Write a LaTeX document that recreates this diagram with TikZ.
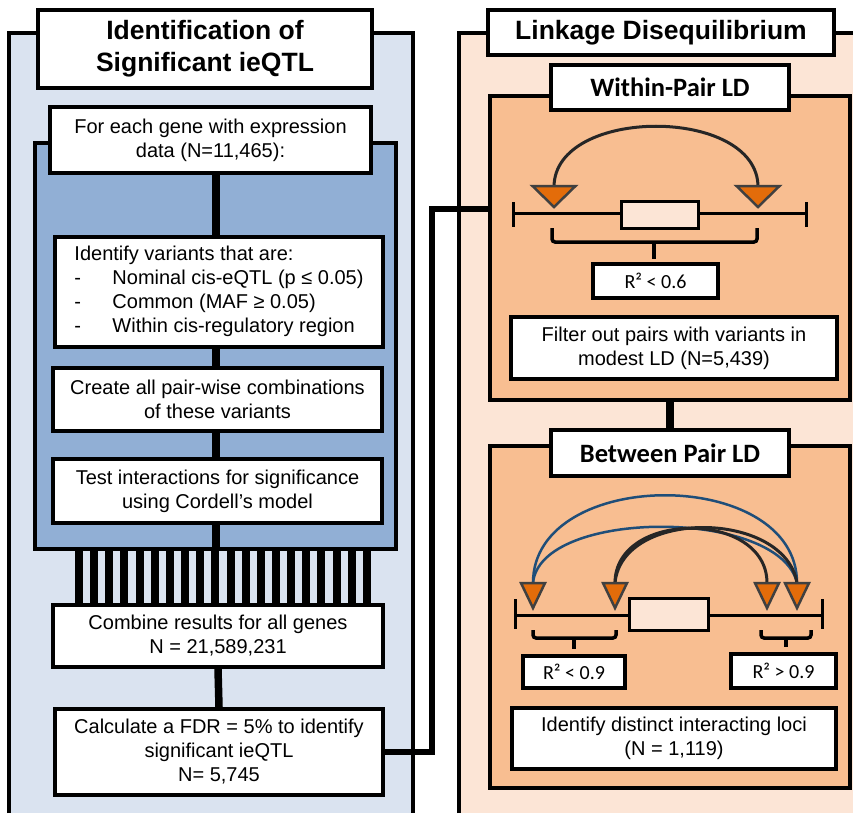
\documentclass[tikz,border=0pt]{standalone}
\usepackage{fontspec}
\setmainfont{Liberation Sans}
\newfontfamily\calfont{Carlito}
\pgfdeclarelayer{bg}
\pgfdeclarelayer{lines}
\pgfsetlayers{bg,lines,main}
\definecolor{leftbg}{HTML}{DAE3F0}
\definecolor{innerblue}{HTML}{91AFD5}
\definecolor{rightbg}{HTML}{FCE5D6}
\definecolor{orangebg}{HTML}{F8BE91}
\definecolor{trifill}{HTML}{E36C0A}
\definecolor{triborder}{HTML}{404040}
\definecolor{arcblue}{HTML}{1F4E79}
\definecolor{genefill}{HTML}{FCE5D6}
\tikzset{
  panel/.style={line width=4pt, draw=black},
  box/.style={draw=black, line width=4pt, fill=white, inner sep=0pt, align=center,
    font=\fontsize{20}{24}\selectfont},
  titlebox/.style={draw=black, line width=4pt, fill=white, inner sep=0pt, align=center,
    font=\bfseries\fontsize{26.5}{32}\selectfont},
  ldtitle/.style={draw=black, line width=4pt, fill=white, inner sep=0pt, align=center,
    font=\calfont\bfseries\fontsize{26.5}{30}\selectfont},
  rbox/.style={draw=black, line width=3.5pt, fill=white, inner sep=0pt, align=center,
    font=\calfont\fontsize{20}{22}\selectfont},
  innerrect/.style={draw=black, line width=4pt, fill=innerblue, inner sep=0pt},
  orangebox/.style={draw=black, line width=3.5pt, fill=orangebg, inner sep=0pt},
  spine/.style={line width=7.5pt, draw=black},
  comb/.style={line width=8pt, draw=black},
  link/.style={line width=6pt, draw=black},
  gline/.style={line width=3pt, draw=black},
  generect/.style={line width=3pt, draw=black, fill=genefill},
  bracket/.style={line width=3.5pt, draw=black, rounded corners=3pt},
  arcblack/.style={line width=3pt, draw=black!85},
  arcblue/.style={line width=2.5pt, draw=arcblue},
  bigtri/.pic={\draw[fill=trifill, draw=triborder, line width=2.5pt] (0,0) -- (-21.5,-21) -- (21.5,-21) -- cycle;},
  smalltri/.pic={\draw[fill=trifill, draw=triborder, line width=2.5pt] (0,0) -- (-12,-25) -- (12,-25) -- cycle;}
}
\begin{document}
\begin{tikzpicture}[x=1pt,y=-1pt]
\useasboundingbox (0,0) rectangle (853,813);
\begin{pgfonlayer}{bg}
  % left panel
  \fill[leftbg] (9,33) rectangle (413,813);
  \draw[panel] (9,813) -- (9,33) -- (413,33) -- (413,813);
  % right panel
  \fill[rightbg] (459,33) rectangle (853,813);
  \draw[panel] (459,813) -- (459,33) -- (853,33);
  \node[innerrect, minimum width=361pt, minimum height=406pt] (inner) at (215.5,346) {};
  \node[orangebox, minimum width=360pt, minimum height=304pt] (within) at (670,248) {};
  \node[orangebox, minimum width=360pt, minimum height=342pt] (between) at (670,617) {};
\end{pgfonlayer}

% left column boxes
\node[titlebox, minimum width=334pt, minimum height=78pt] (title1) at (205,49)
  {Identification of\\Significant ieQTL};
\node[box, minimum width=321pt, minimum height=66pt] (foreach) at (210.5,140)
  {For each gene with expression\\data (N=11,465):};
\node[box, minimum width=328pt, minimum height=110pt] (ident) at (219,292)
  {\begin{tabular}{@{}l@{}}Identify variants that are:\\
   \makebox[38pt][l]{-}Nominal cis-eQTL (p ≤ 0.05)\\
   \makebox[38pt][l]{-}Common (MAF ≥ 0.05)\\
   \makebox[38pt][l]{-}Within cis-regulatory region\end{tabular}};
\node[box, minimum width=329pt, minimum height=63pt] (create) at (217.5,399.5)
  {Create all pair-wise combinations\\of these variants};
\node[box, minimum width=329pt, minimum height=64pt] (test) at (217.5,491)
  {Test interactions for significance\\using Cordell’s model};
\node[box, minimum width=330pt, minimum height=62pt] (combine) at (218,636)
  {Combine results for all genes\\N = 21,589,231};
\node[box, minimum width=328pt, minimum height=86pt] (calc) at (219,752)
  {Calculate a FDR = 5\% to identify\\significant ieQTL\\N= 5,745};

% right column boxes
\node[titlebox, minimum width=346pt, minimum height=45pt] (title2) at (661,32.5)
  {Linkage Disequilibrium};
\node[ldtitle, minimum width=238pt, minimum height=45pt] (wtitle) at (670,87.5)
  {Within-Pair LD};
\node[rbox, minimum width=125pt, minimum height=34pt] (r06) at (655.5,281)
  {R² < 0.6};
\node[box, minimum width=326pt, minimum height=62pt] (filter) at (674,348)
  {Filter out pairs with variants in\\modest LD (N=5,439)};
\node[ldtitle, minimum width=238pt, minimum height=46pt] (btitle) at (670,453)
  {Between Pair LD};
\node[rbox, minimum width=102pt, minimum height=32pt] (r09a) at (574,672)
  {R² < 0.9};
\node[rbox, minimum width=105pt, minimum height=34pt] (r09b) at (783.5,671)
  {R² > 0.9};
\node[box, minimum width=324pt, minimum height=61pt] (distinct) at (674,738.5)
  {Identify distinct interacting loci\\(N = 1,119)};

% connectors
\coordinate (spx) at (216,0);
\coordinate (bend) at (432,209);
\begin{pgfonlayer}{lines}
  \draw[spine] (foreach.south -| spx) -- (inner.south -| spx);
  \foreach \i in {0,...,19} {
    \pgfmathsetmacro\xx{79+15.15*\i}
    \draw[comb] (inner.south -| \xx,0) -- (combine.north -| \xx,0);
  }
  \draw[spine] (combine.south) -- (calc.north);
  \draw[link] (calc.east) -| (bend) -- (bend -| within.west);
  \draw[spine] (within.south) -- (btitle.north);
\end{pgfonlayer}

% within-pair diagram
\draw[gline] (513,213) -- (806,213);
\draw[gline] (513,202) -- (513,227);
\draw[gline] (806,202) -- (806,227);
\draw[generect] (621,201) rectangle (698,228);
\draw[arcblack] (554,187) .. controls (554,106) and (758,106) .. (758,187);
\pic at (554,207) {bigtri};
\pic at (758,207) {bigtri};
\draw[bracket] (552,228) -- (552,242) -- (757,242) -- (757,228);
\draw[bracket] (654,242) -- (654,259);

% between-pair diagram
\draw[gline] (515,615) -- (822,615);
\draw[gline] (515,599) -- (515,629);
\draw[gline] (822,599) -- (822,629);
\draw[generect] (629,598) rectangle (708,630);
\draw[arcblue] (533,583) .. controls (533,466) and (797,466) .. (797,583);
\draw[arcblue] (533,583) .. controls (540,508) and (780,508) .. (797,583);
\draw[arcblack] (615,583) .. controls (615,510) and (767,510) .. (767,583);
\draw[arcblack] (615,583) .. controls (622,508) and (785,510) .. (797,583);
\pic at (533,608) {smalltri};
\pic at (615,608) {smalltri};
\pic at (767,608) {smalltri};
\pic at (797,608) {smalltri};
\draw[bracket] (533,630) -- (533,638) -- (616,638) -- (616,630);
\draw[bracket] (574,638) -- (574,649);
\draw[bracket] (761,630) -- (761,638) -- (811,638) -- (811,630);
\draw[bracket] (786,638) -- (786,647);
\end{tikzpicture}
\end{document}
